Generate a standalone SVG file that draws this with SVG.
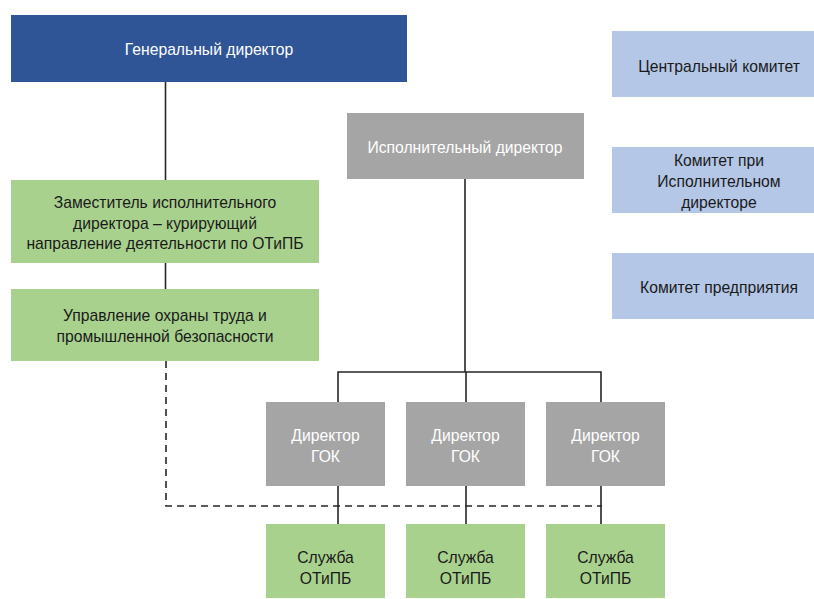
<svg xmlns="http://www.w3.org/2000/svg" width="814" height="599" viewBox="0 0 814 599">
<style>
text{font-family:"Liberation Sans","Noto Sans",sans-serif;font-size:15.7px;text-anchor:middle;dominant-baseline:central}
.w{fill:#ffffff}.k{fill:#1a1a1a}
.blue{fill:#2F5597}.gray{fill:#A5A5A5}.green{fill:#A9D18E}.lb{fill:#B4C7E7}
.ln{stroke:#262626;stroke-width:1.6;fill:none}
.dash{stroke:#262626;stroke-width:1.6;fill:none;stroke-dasharray:7,5}
</style>
<rect width="814" height="599" fill="#ffffff"/>
<g id="connectors">
<path class="ln" d="M165.5 82V180M165.5 263V289"/>
<path class="ln" d="M465 179V372M338 402V372H601V402M466 372V402"/>
<path class="ln" d="M338 486V524M466 486V524M601 486V524"/>
<path class="dash" d="M166 361V506H602"/>
</g>
<g id="gen"><rect class="blue" x="11" y="15" width="396" height="67"/><text class="w" x="209" y="49">Генеральный директор</text></g>
<g id="exec"><rect class="gray" x="347" y="113" width="237" height="66"/><text class="w" x="465" y="147">Исполнительный директор</text></g>
<g id="deputy"><rect class="green" x="11" y="180" width="308" height="83"/><text class="k" x="165" y="202">Заместитель исполнительного</text><text class="k" x="165" y="223">директора – курирующий</text><text class="k" x="165" y="243">направление деятельности по ОТиПБ</text></g>
<g id="mgmt"><rect class="green" x="11" y="289" width="308" height="72"/><text class="k" x="165" y="315">Управление охраны труда и</text><text class="k" x="165" y="336">промышленной безопасности</text></g>
<g id="c1"><rect class="lb" x="612" y="31" width="202" height="66"/><text class="k" x="719" y="66">Центральный комитет</text></g>
<g id="c2"><rect class="lb" x="612" y="147" width="202" height="66"/><text class="k" x="719" y="160">Комитет при</text><text class="k" x="719" y="181">Исполнительном</text><text class="k" x="719" y="202">директоре</text></g>
<g id="c3"><rect class="lb" x="612" y="253" width="202" height="66"/><text class="k" x="719" y="287">Комитет предприятия</text></g>
<g id="d1"><rect class="gray" x="266" y="402" width="119" height="84"/><text class="w" x="325.5" y="435">Директор</text><text class="w" x="325.5" y="456">ГОК</text></g>
<g id="d2"><rect class="gray" x="406" y="402" width="119" height="84"/><text class="w" x="465.5" y="435">Директор</text><text class="w" x="465.5" y="456">ГОК</text></g>
<g id="d3"><rect class="gray" x="546" y="402" width="119" height="84"/><text class="w" x="605.5" y="435">Директор</text><text class="w" x="605.5" y="456">ГОК</text></g>
<g id="s1"><rect class="green" x="266" y="524" width="119" height="74"/><text class="k" x="325.5" y="557">Служба</text><text class="k" x="325.5" y="578">ОТиПБ</text></g>
<g id="s2"><rect class="green" x="406" y="524" width="119" height="74"/><text class="k" x="465.5" y="557">Служба</text><text class="k" x="465.5" y="578">ОТиПБ</text></g>
<g id="s3"><rect class="green" x="546" y="524" width="119" height="74"/><text class="k" x="605.5" y="557">Служба</text><text class="k" x="605.5" y="578">ОТиПБ</text></g>
</svg>
